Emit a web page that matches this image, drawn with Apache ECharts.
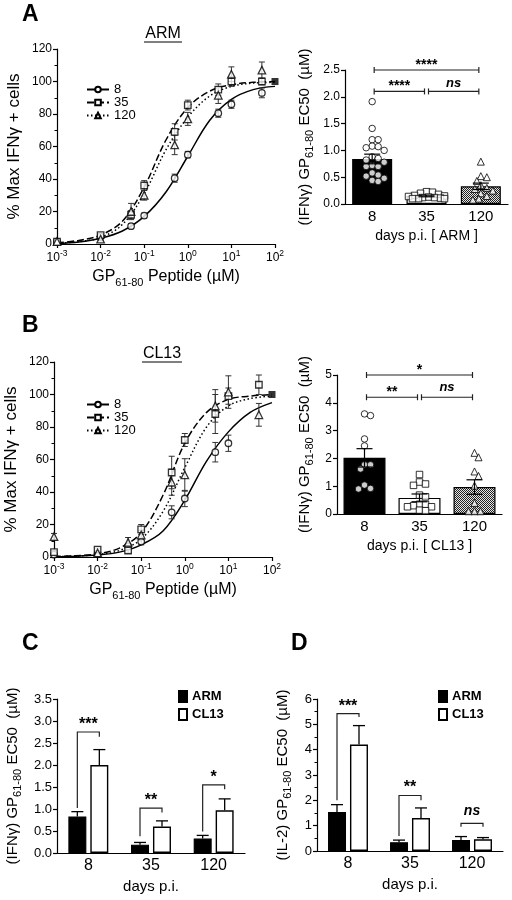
<!DOCTYPE html>
<html><head><meta charset="utf-8">
<script src="https://cdn.jsdelivr.net/npm/echarts@6/dist/echarts.min.js"></script>
<style>html,body{margin:0;padding:0;background:#fff}#c{width:512px;height:900px}</style>
</head><body><div id="c"></div>
<script>
const FONT = '"Liberation Sans", Arial, Helvetica, sans-serif';

// ---------- Panels A / B (left): dose response ----------
const doseX = [0.001, 0.01, 0.05, 0.1, 0.5, 1, 5, 10, 50];
const armDay8 = [1.5, 4.5, 11, 17.5, 40.5, 55, 80.5, 86, 93];
const armDay8Err = [0.5, 1, 1.5, 1.5, 2.5, 2, 2.5, 2.5, 3];
const armDay35 = [1.5, 5.5, 18, 36, 69, 85.5, 95, 100, 100];
const armDay35Err = [0.5, 1, 2.5, 3, 5, 3, 3.5, 3, 2];
const armDay120 = [1.5, 3, 20, 30, 61, 77, 91.5, 104.5, 107];
const armDay120Err = [0.5, 1, 5, 3, 6, 4, 5, 4.5, 5];
const clDay8 = [1.5, 2, 6.5, 9.5, 27.5, 36, 64.5, 70, null];
const clDay8Err = [0.5, 1, 1.5, 2, 4, 5, 6, 5, 0];
const clDay35 = [3, 4.5, 4, 17, 52, 72, 88, 99, 106];
const clDay35Err = [1, 1, 1.5, 3, 10, 4, 12, 5, 6];
const clDay120 = [12.5, 2.5, 9, 13.5, 46, 50.5, 93, 101.5, 87.5];
const clDay120Err = [2, 1, 3, 3, 8, 10, 10, 10, 7];
const plateauX = [100];
const plateauY = [100];

const curveX = [0.001, 0.00316, 0.01, 0.0316, 0.1, 0.316, 1, 3.16, 10, 31.6, 100];
const armFit8 = [0.3, 1.2, 3.5, 8, 17, 32, 54, 76, 89, 95, 97];
const armFit35 = [0.8, 2.2, 5.5, 14, 35, 64, 84, 94, 98, 99.5, 100];
const armFit120 = [0.5, 1.5, 4, 12, 31, 58, 78, 91, 97, 99, 99.5];
const clFit8 = [0.2, 0.5, 1.2, 3, 7.5, 16, 35, 59, 77, 89, 95];
const clFit35 = [0.3, 0.8, 2, 5.5, 15, 38, 70, 89, 97, 99, 100];
const clFit120 = [0.2, 0.6, 1.5, 4, 11, 28, 55, 80, 93, 97.5, 99];
const dayNames = ['8', '35', '120'];

// ---------- Panels A / B (right): EC50 per mouse ----------
const dayCats = ['8', '35', '120'];
const armEC50Mean = [0.84, 0.15, 0.33];
const armEC50Sem = [0.09, 0.015, 0.06];
const armEC50Day8 = [1.91, 1.41, 1.2, 1.2, 1.08, 1.07, 1.05, 1.0, 0.88, 0.85, 0.82, 0.78, 0.72, 0.7, 0.7, 0.58, 0.54, 0.52, 0.48, 0.44, 0.42];
const armEC50Day35 = [0.23, 0.22, 0.2, 0.18, 0.16, 0.15, 0.14, 0.13, 0.12, 0.12, 0.11, 0.1, 0.1, 0.1];
const armEC50Day120 = [0.79, 0.52, 0.5, 0.43, 0.35, 0.3, 0.28, 0.25, 0.2, 0.15, 0.1, 0.08];
const armSigFrom = [0, 0, 1];
const armSigTo = [2, 1, 2];
const armSigY = [2.5, 2.1, 2.1];
const armSigText = ['****', '****', 'ns'];

const clEC50Mean = [2.02, 0.58, 0.97];
const clEC50Sem = [0.33, 0.14, 0.26];
const clEC50Day8 = [3.6, 3.54, 2.7, 2.45, 1.77, 1.77, 1.62, 1.04, 0.92, 0.9];
const clEC50Day35 = [1.42, 1.15, 1.08, 1.03, 0.68, 0.62, 0.35, 0.35, 0.3, 0.26, 0.26, 0.14, 0.12];
const clEC50Day120 = [2.2, 2.04, 1.53, 1.37, 1.02, 0.4, 0.1, 0.1, 0.1];
const clSigFrom = [0, 0, 1];
const clSigTo = [2, 1, 2];
const clSigY = [5.0, 4.2, 4.2];
const clSigText = ['*', '**', 'ns'];

// ---------- Panel C: IFNγ EC50 ARM vs CL13 ----------
const groupNames = ['ARM', 'CL13'];
const cArm = [0.83, 0.19, 0.33];
const cArmSem = [0.11, 0.05, 0.07];
const cCl13 = [2.0, 0.6, 0.97];
const cCl13Sem = [0.35, 0.13, 0.26];
const cSigTop = [2.75, 1.02, 1.55];
const cSigLowArm = [1.02, 0.38, 0.49];
const cSigLowCl13 = [2.64, 0.92, 1.45];
const cSigText = ['***', '**', '*'];

// ---------- Panel D: IL-2 EC50 ARM vs CL13 ----------
const dArm = [1.54, 0.35, 0.43];
const dArmSem = [0.29, 0.08, 0.14];
const dCl13 = [4.2, 1.3, 0.46];
const dCl13Sem = [0.75, 0.4, 0.07];
const dSigTop = [5.42, 2.19, 1.09];
const dSigLowArm = [2.0, 0.59, 0.96];
const dSigLowCl13 = [5.29, 2.0, 0.96];
const dSigText = ['***', '**', 'ns'];

// ================= rendering =================
const BLACK = '#000';
function merge(a, b) {
  const out = Array.isArray(a) ? a.slice() : Object.assign({}, a);
  for (const k in b) {
    if (b[k] && typeof b[k] === 'object' && !Array.isArray(b[k]) && a[k] && typeof a[k] === 'object' && !Array.isArray(a[k])) out[k] = merge(a[k], b[k]);
    else out[k] = b[k];
  }
  return out;
}
const baseAxis = {
  axisLine: { show: true, onZero: false, lineStyle: { color: BLACK, width: 1.2 } },
  axisTick: { show: true, inside: false, length: 4, lineStyle: { color: BLACK, width: 1.2 } },
  axisLabel: { color: BLACK, fontSize: 12, fontFamily: FONT, margin: 5 },
  splitLine: { show: false },
  nameTextStyle: { color: BLACK, fontFamily: FONT }
};
const subRich = { sub: { fontSize: 11, lineHeight: 11, verticalAlign: 'bottom', fontFamily: FONT, color: BLACK } };

function doseXAxis(grid) {
  return merge(baseAxis, {
    gridIndex: grid, type: 'log', logBase: 10, min: 0.001, max: 100,
    axisLabel: {
      formatter: v => '{b|10}{s|' + Math.round(Math.log10(v)) + '}',
      rich: { b: { fontSize: 12, lineHeight: 17, fontFamily: FONT, color: BLACK },
              s: { fontSize: 8.5, lineHeight: 9, verticalAlign: 'top', fontFamily: FONT, color: BLACK } }
    },
    name: 'GP{sub|61-80} Peptide (µM)', nameLocation: 'middle', nameGap: 22,
    nameTextStyle: { fontSize: 16, lineHeight: 22, rich: subRich }
  });
}
function doseYAxis(grid) {
  return merge(baseAxis, {
    gridIndex: grid, type: 'value', min: 0, max: 120, interval: 20,
    minorTick: { show: true, splitNumber: 2, length: 2.5, lineStyle: { color: BLACK, width: 1 } },
    name: '% Max IFNγ + cells', nameLocation: 'middle', nameRotate: 90, nameGap: 34,
    nameTextStyle: { fontSize: 17 }
  });
}
function catXAxis(grid, name, fs, gap) {
  return merge(baseAxis, {
    gridIndex: grid, type: 'category', data: dayCats,
    axisTick: { show: false }, axisLabel: { fontSize: fs, margin: 5 },
    name: name, nameLocation: 'middle', nameGap: gap, nameTextStyle: { fontSize: fs - 1 }
  });
}
function valYAxis(grid, max, interval, name, gap, fs, dec, minor) {
  return merge(baseAxis, {
    gridIndex: grid, type: 'value', min: 0, max: max, interval: interval,
    axisLabel: { fontSize: fs, formatter: v => v.toFixed(dec) },
    minorTick: { show: !!minor, splitNumber: 2, length: 2.5, lineStyle: { color: BLACK, width: 1 } },
    name: name, nameLocation: 'middle', nameRotate: 90, nameGap: gap,
    nameTextStyle: { fontSize: 15, lineHeight: 20, rich: subRich }
  });
}

const lineTypes = ['solid', [7, 3], [1.5, 2.5]];
const symbols = ['circle', 'rect', 'triangle'];
const symSizes = [6.5, 6.5, 7.5];
const openItem = { color: '#fff', borderColor: BLACK, borderWidth: 1.3 };

function doseErrRender(params, api) {
  const x = api.value(0), y = api.value(1), e = api.value(2);
  const lo = api.coord([x, y - e]), hi = api.coord([x, y + e]);
  const st = { stroke: '#333', lineWidth: 1 };
  const cw = 3;
  return { type: 'group', children: [
    { type: 'line', shape: { x1: lo[0], y1: lo[1], x2: hi[0], y2: hi[1] }, style: st },
    { type: 'line', shape: { x1: lo[0] - cw, y1: lo[1], x2: lo[0] + cw, y2: lo[1] }, style: st },
    { type: 'line', shape: { x1: hi[0] - cw, y1: hi[1], x2: hi[0] + cw, y2: hi[1] }, style: st }
  ]};
}

function doseSeries(ax, fits, vals, errs) {
  const out = [];
  fits.forEach((f, k) => {
    out.push({
      type: 'line', name: dayNames[k], xAxisIndex: ax, yAxisIndex: ax,
      data: curveX.map((x, i) => [x, f[i]]), smooth: 0.35, showSymbol: false,
      symbol: symbols[k], symbolSize: 6, itemStyle: openItem,
      lineStyle: { color: BLACK, width: 1.5, type: lineTypes[k] }, z: 2, silent: true
    });
  });
  vals.forEach((v, k) => {
    const data = [];
    doseX.forEach((x, i) => { if (v[i] != null) data.push([x, v[i], errs[k][i]]); });
    out.push({ type: 'custom', xAxisIndex: ax, yAxisIndex: ax, data: data, renderItem: doseErrRender, z: 3, silent: true });
    out.push({ type: 'scatter', xAxisIndex: ax, yAxisIndex: ax, data: data.map(d => [d[0], d[1]]),
      symbol: symbols[k], symbolSize: symSizes[k], itemStyle: openItem, z: 4, silent: true, clip: false });
  });
  out.push({ type: 'scatter', xAxisIndex: ax, yAxisIndex: ax, data: plateauX.map((x, i) => [x, plateauY[i]]),
    symbol: 'rect', symbolSize: 7, itemStyle: { color: BLACK }, z: 5, silent: true, clip: false });
  return out;
}

function swarm(values, pxPerUnit, dist, step, maxHalf) {
  const placed = [];
  return values.map(v => {
    const y = v * pxPerUnit;
    let best = 0, bestOverlap = Infinity;
    for (let k = 0; k < 80; k++) {
      const m = Math.ceil(k / 2);
      const dx = k === 0 ? 0 : (k % 2 ? m : -m) * step;
      if (Math.abs(dx) > maxHalf) break;
      let minD = Infinity;
      placed.forEach(p => { minD = Math.min(minD, Math.hypot(p[0] - dx, p[1] - y)); });
      if (minD >= dist) { placed.push([dx, y]); return dx; }
      const ov = dist - minD;
      if (ov < bestOverlap) { bestOverlap = ov; best = dx; }
    }
    placed.push([best, y]);
    return best;
  });
}

function makePattern() {
  const c = document.createElement('canvas');
  c.width = 4; c.height = 4;
  const g = c.getContext('2d');
  g.fillStyle = '#e6e6e6'; g.fillRect(0, 0, 4, 4);
  g.fillStyle = '#222';
  [[0,0],[2,0],[1,1],[3,1],[0,2],[2,2],[1,3],[3,3]].forEach(p => g.fillRect(p[0], p[1], 1, 1));
  return { image: c, repeat: 'repeat' };
}
const pattern = makePattern();
const barStyles = [
  { color: BLACK, borderColor: BLACK, borderWidth: 1.2 },
  { color: '#fff', borderColor: BLACK, borderWidth: 1.2 },
  { color: pattern, borderColor: BLACK, borderWidth: 1.2 }
];

function meanErrRender(cw) {
  return (params, api) => {
    const i = api.value(0), m = api.value(1), e = api.value(2);
    const lo = api.coord([i, m - e]), hi = api.coord([i, m + e]);
    const st = { stroke: BLACK, lineWidth: 1.2 };
    return { type: 'group', children: [
      { type: 'line', shape: { x1: lo[0], y1: lo[1], x2: hi[0], y2: hi[1] }, style: st },
      { type: 'line', shape: { x1: lo[0] - cw, y1: lo[1], x2: lo[0] + cw, y2: lo[1] }, style: st },
      { type: 'line', shape: { x1: hi[0] - cw, y1: hi[1], x2: hi[0] + cw, y2: hi[1] }, style: st }
    ]};
  };
}

function sigText(t, x, y, offStar, offNs, fsStar, fsNs) {
  const ns = t === 'ns';
  return { type: 'text', style: { text: t, x: x, y: y - (ns ? offNs : offStar), align: 'center', verticalAlign: 'middle',
    fontSize: ns ? fsNs : fsStar, fontWeight: 'bold', fontStyle: ns ? 'italic' : 'normal', fontFamily: FONT, fill: BLACK } };
}

function bracketRender(from, to, ys, texts, offStar, offNs) {
  return (params, api) => {
    const i = params.dataIndex;
    const a = api.coord([from[i], ys[i]]), b = api.coord([to[i], ys[i]]);
    const x1 = a[0] + 2, x2 = b[0] - 2, y = a[1];
    const st = { stroke: '#222', lineWidth: 1.2 };
    return { type: 'group', children: [
      { type: 'line', shape: { x1: x1, y1: y, x2: x2, y2: y }, style: st },
      { type: 'line', shape: { x1: x1, y1: y - 3, x2: x1, y2: y + 3 }, style: st },
      { type: 'line', shape: { x1: x2, y1: y - 3, x2: x2, y2: y + 3 }, style: st },
      sigText(texts[i], (x1 + x2) / 2, y, offStar, offNs, 14, 13)
    ]};
  };
}

function ec50Series(ax, means, sems, pts, pxPerUnit, barW, sig, offStar, offNs) {
  const out = [];
  out.push({ type: 'bar', xAxisIndex: ax, yAxisIndex: ax, barWidth: barW, z: 2, silent: true,
    data: means.map((v, i) => ({ value: v, itemStyle: barStyles[i] })) });
  pts.forEach((arr, k) => {
    const offs = swarm(arr, pxPerUnit, 5.6, 2, barW / 2 - 1);
    out.push({ type: 'scatter', xAxisIndex: ax, yAxisIndex: ax, symbol: symbols[k], symbolSize: k === 2 ? 7 : 6.5,
      itemStyle: { color: '#fff', borderColor: BLACK, borderWidth: 1 }, z: 3, silent: true, clip: false,
      data: arr.map((v, i) => ({ value: [k, v], symbolOffset: [offs[i], 0] })) });
  });
  out.push({ type: 'custom', xAxisIndex: ax, yAxisIndex: ax, z: 4, silent: true,
    data: means.map((m, i) => [i, m, sems[i]]), renderItem: meanErrRender(8) });
  out.push({ type: 'custom', xAxisIndex: ax, yAxisIndex: ax, z: 5, silent: true,
    data: sig.from.map((f, i) => [f, sig.y[i]]),
    renderItem: bracketRender(sig.from, sig.to, sig.y, sig.text, offStar, offNs) });
  return out;
}

const PAIR_OFF = 11;
function pairErrRender(sign) {
  return (params, api) => {
    const i = api.value(0), m = api.value(1), e = api.value(2);
    const p = api.coord([i, m]), q = api.coord([i, m + e]);
    const x = p[0] + sign * PAIR_OFF;
    const st = { stroke: BLACK, lineWidth: 1.3 };
    return { type: 'group', children: [
      { type: 'line', shape: { x1: x, y1: p[1], x2: x, y2: q[1] }, style: st },
      { type: 'line', shape: { x1: x - 6, y1: q[1], x2: x + 6, y2: q[1] }, style: st }
    ]};
  };
}
function pairSigRender(top, lowL, lowR, texts, offStar, offNs) {
  return (params, api) => {
    const i = params.dataIndex;
    const c = api.coord([i, top[i]]), l = api.coord([i, lowL[i]]), r = api.coord([i, lowR[i]]);
    const xl = c[0] - PAIR_OFF, xr = c[0] + PAIR_OFF;
    return { type: 'group', children: [
      { type: 'polyline', shape: { points: [[xl, l[1]], [xl, c[1]], [xr, c[1]], [xr, r[1]]] },
        style: { stroke: '#222', lineWidth: 1.2, fill: null } },
      sigText(texts[i], c[0], c[1], offStar, offNs, 16, 14)
    ]};
  };
}
function pairSeries(ax, arm, armSem, cl, clSem, top, lowL, lowR, texts, offStar, offNs) {
  return [
    { type: 'bar', name: groupNames[0], xAxisIndex: ax, yAxisIndex: ax, data: arm, barWidth: 18, barGap: '22%',
      itemStyle: { color: BLACK, borderColor: BLACK, borderWidth: 1.2 }, z: 2, silent: true },
    { type: 'bar', name: groupNames[1], xAxisIndex: ax, yAxisIndex: ax, data: cl, barWidth: 18, barGap: '22%',
      itemStyle: { color: '#fff', borderColor: BLACK, borderWidth: 1.4 }, z: 2, silent: true },
    { type: 'custom', xAxisIndex: ax, yAxisIndex: ax, z: 3, silent: true,
      data: arm.map((m, i) => [i, m, armSem[i]]), renderItem: pairErrRender(-1) },
    { type: 'custom', xAxisIndex: ax, yAxisIndex: ax, z: 3, silent: true,
      data: cl.map((m, i) => [i, m, clSem[i]]), renderItem: pairErrRender(1) },
    { type: 'custom', xAxisIndex: ax, yAxisIndex: ax, z: 4, silent: true,
      data: top.map((t, i) => [i, t]), renderItem: pairSigRender(top, lowL, lowR, texts, offStar, offNs) }
  ];
}

const ifnName = '(IFNγ) GP{sub|61-80} EC50  (µM)';
const il2Name = '(IL-2) GP{sub|61-80} EC50  (µM)';

const option = {
  animation: false,
  backgroundColor: '#fff',
  textStyle: { fontFamily: FONT, color: BLACK },
  grid: [
    { left: 57, top: 49, width: 218, height: 195, outerBoundsMode: 'none' },
    { left: 345, top: 70, width: 163, height: 134, outerBoundsMode: 'none' },
    { left: 54, top: 362, width: 218, height: 195, outerBoundsMode: 'none' },
    { left: 337, top: 375, width: 165, height: 139, outerBoundsMode: 'none' },
    { left: 57, top: 699, width: 188, height: 154, outerBoundsMode: 'none' },
    { left: 317, top: 699, width: 186, height: 152, outerBoundsMode: 'none' }
  ],
  xAxis: [
    doseXAxis(0),
    catXAxis(1, 'days p.i. [ ARM ]', 15, 25),
    doseXAxis(2),
    catXAxis(3, 'days p.i. [ CL13 ]', 15, 25),
    catXAxis(4, 'days p.i.', 16, 26),
    catXAxis(5, 'days p.i.', 16, 26)
  ],
  yAxis: [
    doseYAxis(0),
    valYAxis(1, 2.5, 0.5, ifnName, 30, 12, 1, false),
    doseYAxis(2),
    valYAxis(3, 5, 1, ifnName, 22, 12, 0, false),
    valYAxis(4, 3.5, 0.5, ifnName, 34, 13, 1, false),
    valYAxis(5, 6, 1, il2Name, 24, 13, 0, true)
  ],
  legend: [
    { data: dayNames, orient: 'vertical', left: 86, top: 83, itemWidth: 22, itemHeight: 7, itemGap: 0, padding: 0,
      selectedMode: false, textStyle: { fontSize: 13, lineHeight: 13, color: BLACK, fontFamily: FONT } },
    { data: dayNames, orient: 'vertical', left: 86, top: 398, itemWidth: 22, itemHeight: 7, itemGap: 0, padding: 0,
      selectedMode: false, textStyle: { fontSize: 13, lineHeight: 13, color: BLACK, fontFamily: FONT } },
    { data: groupNames, orient: 'vertical', left: 178, top: 690, itemWidth: 8, itemHeight: 11, itemGap: 5, padding: 0,
      icon: 'rect', selectedMode: false, textStyle: { fontSize: 13, lineHeight: 13, fontWeight: 'bold', color: BLACK, fontFamily: FONT } },
    { data: groupNames, orient: 'vertical', left: 438, top: 690, itemWidth: 8, itemHeight: 11, itemGap: 5, padding: 0,
      icon: 'rect', selectedMode: false, textStyle: { fontSize: 13, lineHeight: 13, fontWeight: 'bold', color: BLACK, fontFamily: FONT } }
  ],
  graphic: [
    { type: 'text', x: 22, y: 15, style: { text: 'A', font: 'bold 23px ' + FONT, fill: BLACK, verticalAlign: 'middle' } },
    { type: 'text', x: 22, y: 326, style: { text: 'B', font: 'bold 23px ' + FONT, fill: BLACK, verticalAlign: 'middle' } },
    { type: 'text', x: 22, y: 644, style: { text: 'C', font: 'bold 23px ' + FONT, fill: BLACK, verticalAlign: 'middle' } },
    { type: 'text', x: 291, y: 644, style: { text: 'D', font: 'bold 23px ' + FONT, fill: BLACK, verticalAlign: 'middle' } },
    { type: 'text', x: 163, y: 34, style: { text: 'ARM', font: '16px ' + FONT, fill: BLACK, align: 'center', verticalAlign: 'middle' } },
    { type: 'line', shape: { x1: 144, y1: 42, x2: 182, y2: 42 }, style: { stroke: BLACK, lineWidth: 1 } },
    { type: 'text', x: 162, y: 354, style: { text: 'CL13', font: '16px ' + FONT, fill: BLACK, align: 'center', verticalAlign: 'middle' } },
    { type: 'line', shape: { x1: 142, y1: 362, x2: 182, y2: 362 }, style: { stroke: BLACK, lineWidth: 1 } }
  ],
  series: [].concat(
    doseSeries(0, [armFit8, armFit35, armFit120], [armDay8, armDay35, armDay120], [armDay8Err, armDay35Err, armDay120Err]),
    doseSeries(2, [clFit8, clFit35, clFit120], [clDay8, clDay35, clDay120], [clDay8Err, clDay35Err, clDay120Err]),
    ec50Series(1, armEC50Mean, armEC50Sem, [armEC50Day8, armEC50Day35, armEC50Day120], 134 / 2.5, 40,
      { from: armSigFrom, to: armSigTo, y: armSigY, text: armSigText }, 5, 8.5),
    ec50Series(3, clEC50Mean, clEC50Sem, [clEC50Day8, clEC50Day35, clEC50Day120], 139 / 5, 42,
      { from: clSigFrom, to: clSigTo, y: clSigY, text: clSigText }, 5, 10),
    pairSeries(4, cArm, cArmSem, cCl13, cCl13Sem, cSigTop, cSigLowArm, cSigLowCl13, cSigText, 7.5, 12),
    pairSeries(5, dArm, dArmSem, dCl13, dCl13Sem, dSigTop, dSigLowArm, dSigLowCl13, dSigText, 7.5, 12)
  )
};

const chart = echarts.init(document.getElementById('c'), null, { renderer: 'canvas', width: 512, height: 900 });
chart.setOption(option);
</script>
</body></html>
